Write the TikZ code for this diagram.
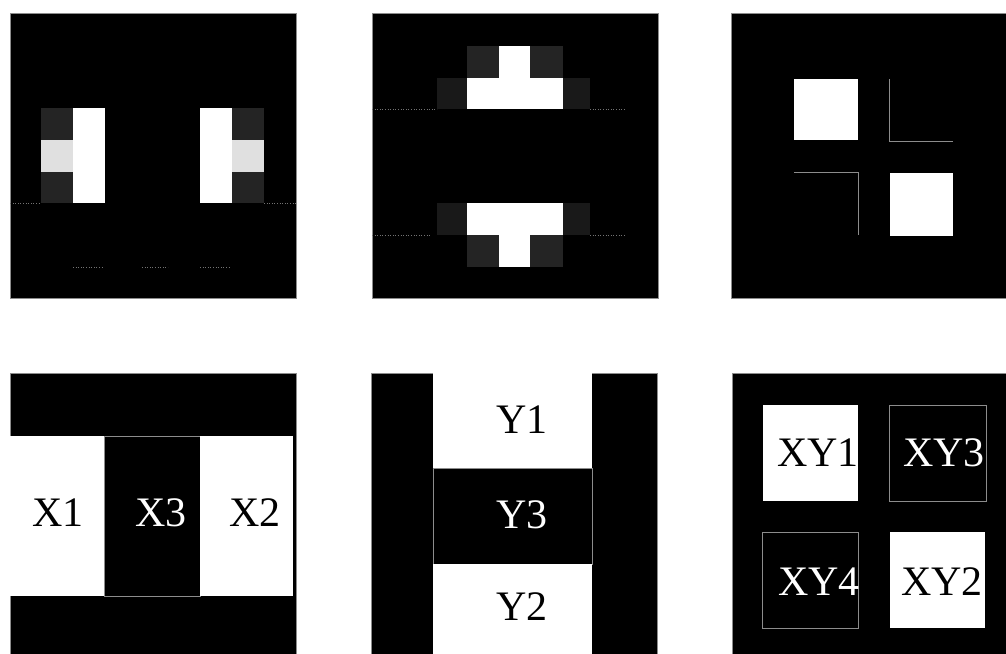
\documentclass[tikz,border=0pt]{standalone}
\usepackage{fontspec}
\setmainfont{Liberation Serif}
\begin{document}
\begin{tikzpicture}[x=1pt,y=-1pt,
  panel/.style={fill=black,draw=black!45,line width=0.7pt},
  wcell/.style={fill=white},
  lightcell/.style={fill=black!12},
  darkcell/.style={fill=black!86},
  sidecell/.style={fill=black!90},
  bcell/.style={fill=black,draw=black!45,line width=0.6pt},
  edge/.style={draw=black!45,line width=0.8pt},
  noise/.style={draw=black!55,line width=0.6pt,dotted},
  lbl/.style={font=\fontsize{42}{42}\selectfont,inner sep=0pt,anchor=center}]
\useasboundingbox (0,0) rectangle (1006,653);
\begin{scope}
\clip (0,0) rectangle (1006,653);
% panels
\path[panel] (10,13) rectangle (296,298);
\path[panel] (372,13) rectangle (658,298);
\path[panel] (731,13) rectangle (1017,298);
\path[panel] (10,373) rectangle (296,659);
\path[panel] (371,373) rectangle (657,659);
\path[panel] (732,373) rectangle (1018,659);

% top-left: two crosses
\path[darkcell] (41,108) rectangle (73,140);
\path[darkcell] (41,172) rectangle (73,203);
\path[lightcell] (41,140) rectangle (73,172);
\path[wcell] (73,108) rectangle (105,203);
\path[wcell] (200,108) rectangle (232,203);
\path[darkcell] (232,108) rectangle (264,140);
\path[darkcell] (232,172) rectangle (264,203);
\path[lightcell] (232,140) rectangle (264,172);
\path[noise] (10,203) -- (41,203) (264,203) -- (296,203)
  (73,267) -- (102,267) (142,267) -- (168,267) (200,267) -- (230,267);

% top-middle: two T shapes
\path[darkcell] (467,46) rectangle (499,78);
\path[darkcell] (530,46) rectangle (563,78);
\path[sidecell] (437,78) rectangle (467,109);
\path[sidecell] (563,78) rectangle (590,109);
\path[wcell] (499,46) rectangle (530,78);
\path[wcell] (467,78) rectangle (563,109);
\path[sidecell] (437,203) rectangle (467,235);
\path[sidecell] (563,203) rectangle (590,235);
\path[darkcell] (467,235) rectangle (499,267);
\path[darkcell] (530,235) rectangle (563,267);
\path[wcell] (467,203) rectangle (563,235);
\path[wcell] (499,235) rectangle (530,267);
\path[noise] (372,109) -- (437,109) (590,109) -- (625,109)
  (372,235) -- (430,235) (590,235) -- (625,235);

% top-right: two squares with outlines
\path[wcell] (794,79) rectangle (858,140);
\path[wcell] (890,173) rectangle (953,236);
\path[edge] (889,79) -- (889,141) -- (953,141);
\path[edge] (794,172) -- (858,172) -- (858,235);

% bottom-left: X1 X3 X2
\path[wcell] (10,436) rectangle (104,596);
\path[bcell] (104,436) rectangle (200,596);
\path[wcell] (200,436) rectangle (293,596);
\node[lbl,text=black] (x1) at (58,513) {X1};
\node[lbl,text=white] (x3) at (161,513) {X3};
\node[lbl,text=black] (x2) at (255,513) {X2};

% bottom-middle: Y1 Y3 Y2
\path[wcell] (433,373) rectangle (592,468);
\path[bcell] (433,468) rectangle (592,564);
\path[wcell] (433,564) rectangle (592,659);
\node[lbl,text=black] (y1) at (522,420) {Y1};
\node[lbl,text=white] (y3) at (522,515) {Y3};
\node[lbl,text=black] (y2) at (522,607) {Y2};

% bottom-right: XY1..XY4
\path[wcell] (763,405) rectangle (858,501);
\path[bcell] (889,405) rectangle (986,501);
\path[bcell] (762,532) rectangle (858,628);
\path[wcell] (890,532) rectangle (985,628);
\node[lbl,text=black] (xy1) at (818,453) {XY1};
\node[lbl,text=white] (xy3) at (944,453) {XY3};
\node[lbl,text=white] (xy4) at (819,582) {XY4};
\node[lbl,text=black] (xy2) at (942,582) {XY2};
\end{scope}
\end{tikzpicture}
\end{document}
